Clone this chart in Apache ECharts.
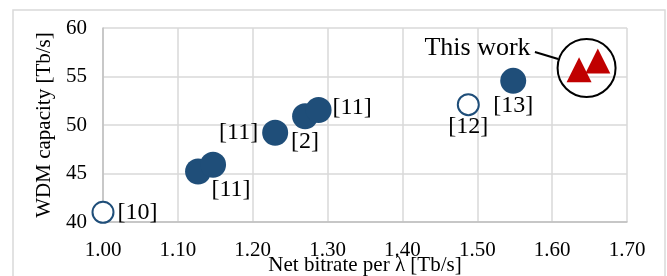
<!DOCTYPE html>
<html>
<head>
<meta charset="utf-8">
<script src="https://cdn.jsdelivr.net/npm/echarts@6/dist/echarts.min.js"></script>
<style>
  html, body { margin: 0; padding: 0; background: #fff; }
  #main { width: 667px; height: 276px; }
</style>
</head>
<body>
<div id="main"></div>
<script>
// reported works (filled markers)
var refX = [1.127, 1.147, 1.23, 1.27, 1.288, 1.548];
var refY = [45.2, 45.9, 49.2, 50.9, 51.55, 54.55];
var refNames = ['', '[11]', '[11]', '[2]', '[11]', '[13]'];

// reported works (open markers)
var openX = [1.00, 1.488];
var openY = [41.0, 52.1];
var openNames = ['[10]', '[12]'];

// this work
var ourX = [1.636, 1.661];
var ourY = [55.7, 56.6];

// annotation circle + pointer line
var noteCenter = [1.646, 55.88];
var noteLine = [[1.577, 57.53], [1.608, 56.8]];

var xTicks = { min: 1.0, max: 1.7, step: 0.1 };
var yTicks = { min: 40, max: 60, step: 5 };

window.onload = function () {
    var myChart = echarts.init(document.getElementById('main'));
    var font = 'Liberation Serif';
    var blue = '#1f4e79';

    // label placement for each point (layout only)
    var refLabel = [
        null,
        { position: 'bottom', distance: 0, offset: [18, 0] },
        { position: 'left', distance: 4 },
        { position: 'bottom', distance: 0 },
        { position: 'right', distance: 1, offset: [0, -2] },
        { position: 'bottom', distance: 0 }
    ];
    var openLabel = [
        { position: 'right', distance: 3 },
        { position: 'bottom', distance: -1 }
    ];

    function pts(xs, ys, names, labels) {
        return xs.map(function (x, i) {
            var d = { value: [x, ys[i]], name: names ? names[i] : '' };
            if (labels && labels[i]) {
                d.label = Object.assign({ show: true }, labels[i]);
            }
            return d;
        });
    }

    var option = {
        animation: false,
        graphic: [{
            type: 'rect',
            shape: { x: 13, y: 10, width: 652, height: 290 },
            style: { fill: 'none', stroke: '#d9d9d9', lineWidth: 1.5 },
            silent: true,
            z: -10
        }],
        grid: { left: 103, right: 40, top: 28, bottom: 54, outerBoundsMode: 'none' },
        xAxis: {
            type: 'value',
            min: xTicks.min, max: xTicks.max, interval: xTicks.step,
            name: 'Net bitrate per λ [Tb/s]',
            nameLocation: 'middle',
            nameGap: 33,
            nameMoveOverlap: false,
            nameTextStyle: { fontFamily: font, fontSize: 21, color: '#000' },
            axisLine: { show: true, lineStyle: { color: '#bfbfbf', width: 1.5 } },
            axisTick: { show: false },
            axisLabel: {
                fontFamily: font, fontSize: 21, color: '#000', margin: 18,
                formatter: function (v) { return v.toFixed(2); }
            },
            splitLine: { show: true, lineStyle: { color: '#d9d9d9', width: 1.5 } }
        },
        yAxis: {
            type: 'value',
            min: yTicks.min, max: yTicks.max, interval: yTicks.step,
            name: 'WDM capacity [Tb/s]',
            nameLocation: 'middle',
            nameGap: 48,
            nameMoveOverlap: false,
            nameTextStyle: { fontFamily: font, fontSize: 21, color: '#000' },
            axisLine: { show: true, lineStyle: { color: '#bfbfbf', width: 1.5 } },
            axisTick: { show: false },
            axisLabel: { fontFamily: font, fontSize: 21, color: '#000', margin: 16 },
            splitLine: { show: true, lineStyle: { color: '#d9d9d9', width: 1.5 } }
        },
        series: [
            {
                name: 'reported',
                type: 'scatter',
                symbol: 'circle',
                symbolSize: 26,
                itemStyle: { color: blue, opacity: 1 },
                label: {
                    fontFamily: font, fontSize: 24, color: '#000',
                    formatter: '{b}'
                },
                data: pts(refX, refY, refNames, refLabel)
            },
            {
                name: 'reported (open)',
                type: 'scatter',
                symbol: 'circle',
                symbolSize: 21,
                itemStyle: { color: '#fff', borderColor: blue, borderWidth: 2, opacity: 1 },
                label: {
                    fontFamily: font, fontSize: 24, color: '#000',
                    formatter: '{b}'
                },
                data: pts(openX, openY, openNames, openLabel)
            },
            {
                name: 'note',
                type: 'scatter',
                symbol: 'circle',
                symbolSize: 58,
                silent: true,
                itemStyle: { color: 'rgba(0,0,0,0)', borderColor: '#000', borderWidth: 2, opacity: 1 },
                label: {
                    show: true,
                    position: 'left',
                    distance: 26,
                    offset: [0, -20],
                    formatter: 'This work',
                    fontFamily: font, fontSize: 26, color: '#000'
                },
                markLine: {
                    silent: true,
                    symbol: 'none',
                    label: { show: false },
                    lineStyle: { color: '#000', width: 2, type: 'solid' },
                    data: [[{ coord: noteLine[0] }, { coord: noteLine[1] }]]
                },
                data: [noteCenter]
            },
            {
                name: 'This work',
                type: 'scatter',
                symbol: 'triangle',
                symbolSize: 25,
                itemStyle: { color: '#c00000', opacity: 1 },
                z: 5,
                data: pts(ourX, ourY)
            }
        ]
    };

    myChart.setOption(option);
};
</script>
</body>
</html>
